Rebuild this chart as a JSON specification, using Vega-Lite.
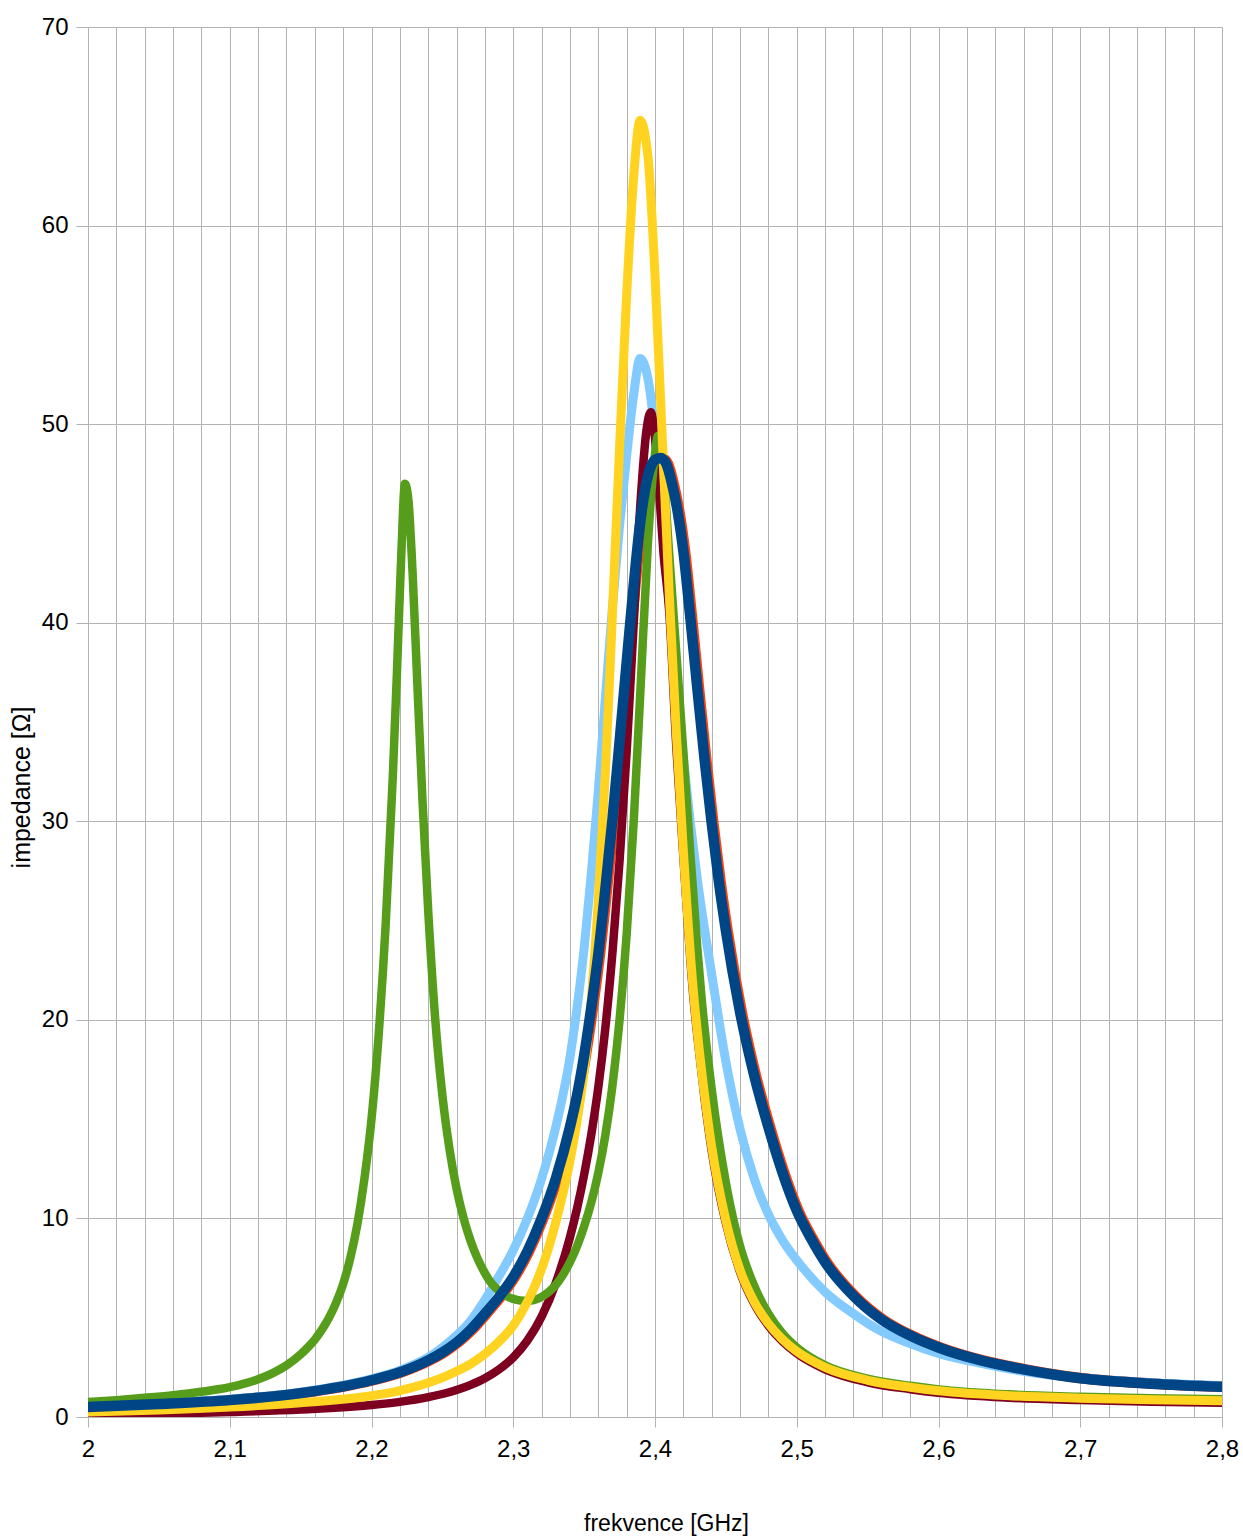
{
  "$schema": "https://vega.github.io/schema/vega-lite/v6.json",
  "autosize": "none",
  "width": 1134,
  "height": 1390,
  "padding": {"left": 88, "top": 27, "right": 21, "bottom": 120},
  "background": "white",
  "config": {
    "view": {"stroke": null},
    "font": "Liberation Sans",
    "axis": {"labelFont": "Liberation Sans", "titleFont": "Liberation Sans", "labelColor": "#000000", "titleColor": "#000000", "titleFontWeight": "normal", "gridColor": "#b3b3b3", "gridWidth": 1, "domainColor": "#b3b3b3", "tickColor": "#b3b3b3"}
  },
  "datasets": {
    "curves": [
      {"s": "orange", "f": 2.0, "z": 0.49}, {"s": "orange", "f": 2.0512, "z": 0.65}, {"s": "orange", "f": 2.1012, "z": 0.85}, {"s": "orange", "f": 2.1512, "z": 1.2}, {"s": "orange", "f": 2.2012, "z": 1.85}, {"s": "orange", "f": 2.2212, "z": 2.25}, {"s": "orange", "f": 2.2412, "z": 2.85}, {"s": "orange", "f": 2.2512, "z": 3.25}, {"s": "orange", "f": 2.2612, "z": 3.75}, {"s": "orange", "f": 2.2712, "z": 4.4}, {"s": "orange", "f": 2.2812, "z": 5.2}, {"s": "orange", "f": 2.2912, "z": 6.05}, {"s": "orange", "f": 2.3012, "z": 7.05}, {"s": "orange", "f": 2.3112, "z": 8.35}, {"s": "orange", "f": 2.3212, "z": 10.0}, {"s": "orange", "f": 2.3312, "z": 12.0}, {"s": "orange", "f": 2.3412, "z": 14.6}, {"s": "orange", "f": 2.3462, "z": 16.2}, {"s": "orange", "f": 2.3512, "z": 18.2}, {"s": "orange", "f": 2.3562, "z": 20.6}, {"s": "orange", "f": 2.3612, "z": 23.3}, {"s": "orange", "f": 2.3662, "z": 26.6}, {"s": "orange", "f": 2.3712, "z": 30.1}, {"s": "orange", "f": 2.3762, "z": 34.0}, {"s": "orange", "f": 2.3812, "z": 38.0}, {"s": "orange", "f": 2.3862, "z": 41.9}, {"s": "orange", "f": 2.3912, "z": 45.3}, {"s": "orange", "f": 2.3962, "z": 47.4}, {"s": "orange", "f": 2.4012, "z": 48.2}, {"s": "orange", "f": 2.4052, "z": 48.3}, {"s": "orange", "f": 2.4092, "z": 48.0}, {"s": "orange", "f": 2.4132, "z": 47.0}, {"s": "orange", "f": 2.4172, "z": 45.6}, {"s": "orange", "f": 2.4212, "z": 43.6}, {"s": "orange", "f": 2.4262, "z": 40.2}, {"s": "orange", "f": 2.4312, "z": 36.6}, {"s": "orange", "f": 2.4362, "z": 33.1}, {"s": "orange", "f": 2.4412, "z": 29.9}, {"s": "orange", "f": 2.4462, "z": 27.0}, {"s": "orange", "f": 2.4512, "z": 24.5}, {"s": "orange", "f": 2.4612, "z": 20.4}, {"s": "orange", "f": 2.4712, "z": 17.2}, {"s": "orange", "f": 2.4812, "z": 14.6}, {"s": "orange", "f": 2.4912, "z": 12.3}, {"s": "orange", "f": 2.5012, "z": 10.4}, {"s": "orange", "f": 2.5112, "z": 9.0}, {"s": "orange", "f": 2.5212, "z": 7.8}, {"s": "orange", "f": 2.5412, "z": 6.1}, {"s": "orange", "f": 2.5612, "z": 4.9}, {"s": "orange", "f": 2.5812, "z": 4.1}, {"s": "orange", "f": 2.6012, "z": 3.5}, {"s": "orange", "f": 2.6312, "z": 2.85}, {"s": "orange", "f": 2.6612, "z": 2.4}, {"s": "orange", "f": 2.7012, "z": 1.95}, {"s": "orange", "f": 2.7512, "z": 1.68}, {"s": "orange", "f": 2.8, "z": 1.53},

      {"s": "lightblue", "f": 2.0, "z": 0.55}, {"s": "lightblue", "f": 2.05, "z": 0.7}, {"s": "lightblue", "f": 2.1, "z": 0.9}, {"s": "lightblue", "f": 2.15, "z": 1.25}, {"s": "lightblue", "f": 2.2, "z": 1.92}, {"s": "lightblue", "f": 2.22, "z": 2.35}, {"s": "lightblue", "f": 2.24, "z": 3.0}, {"s": "lightblue", "f": 2.25, "z": 3.5}, {"s": "lightblue", "f": 2.26, "z": 4.1}, {"s": "lightblue", "f": 2.27, "z": 4.85}, {"s": "lightblue", "f": 2.28, "z": 5.9}, {"s": "lightblue", "f": 2.29, "z": 7.1}, {"s": "lightblue", "f": 2.3, "z": 8.4}, {"s": "lightblue", "f": 2.31, "z": 10.0}, {"s": "lightblue", "f": 2.32, "z": 12.0}, {"s": "lightblue", "f": 2.33, "z": 14.6}, {"s": "lightblue", "f": 2.34, "z": 18.1}, {"s": "lightblue", "f": 2.345, "z": 20.6}, {"s": "lightblue", "f": 2.35, "z": 23.6}, {"s": "lightblue", "f": 2.355, "z": 27.3}, {"s": "lightblue", "f": 2.36, "z": 31.5}, {"s": "lightblue", "f": 2.365, "z": 36.2}, {"s": "lightblue", "f": 2.37, "z": 40.8}, {"s": "lightblue", "f": 2.375, "z": 44.9}, {"s": "lightblue", "f": 2.38, "z": 48.4}, {"s": "lightblue", "f": 2.385, "z": 51.5}, {"s": "lightblue", "f": 2.3895, "z": 53.3}, {"s": "lightblue", "f": 2.395, "z": 52.3}, {"s": "lightblue", "f": 2.4, "z": 49.5}, {"s": "lightblue", "f": 2.405, "z": 45.5}, {"s": "lightblue", "f": 2.41, "z": 41.0}, {"s": "lightblue", "f": 2.415, "z": 37.0}, {"s": "lightblue", "f": 2.42, "z": 33.2}, {"s": "lightblue", "f": 2.43, "z": 27.0}, {"s": "lightblue", "f": 2.44, "z": 22.3}, {"s": "lightblue", "f": 2.45, "z": 17.9}, {"s": "lightblue", "f": 2.46, "z": 14.5}, {"s": "lightblue", "f": 2.47, "z": 12.0}, {"s": "lightblue", "f": 2.48, "z": 10.2}, {"s": "lightblue", "f": 2.49, "z": 8.9}, {"s": "lightblue", "f": 2.5, "z": 7.9}, {"s": "lightblue", "f": 2.52, "z": 6.3}, {"s": "lightblue", "f": 2.54, "z": 5.2}, {"s": "lightblue", "f": 2.56, "z": 4.3}, {"s": "lightblue", "f": 2.58, "z": 3.7}, {"s": "lightblue", "f": 2.6, "z": 3.2}, {"s": "lightblue", "f": 2.63, "z": 2.7}, {"s": "lightblue", "f": 2.66, "z": 2.3}, {"s": "lightblue", "f": 2.7, "z": 1.96}, {"s": "lightblue", "f": 2.75, "z": 1.72}, {"s": "lightblue", "f": 2.8, "z": 1.58},

      {"s": "maroon", "f": 2.0, "z": 0.1}, {"s": "maroon", "f": 2.05, "z": 0.16}, {"s": "maroon", "f": 2.1, "z": 0.25}, {"s": "maroon", "f": 2.15, "z": 0.38}, {"s": "maroon", "f": 2.2, "z": 0.6}, {"s": "maroon", "f": 2.22, "z": 0.76}, {"s": "maroon", "f": 2.24, "z": 1.0}, {"s": "maroon", "f": 2.26, "z": 1.36}, {"s": "maroon", "f": 2.27, "z": 1.62}, {"s": "maroon", "f": 2.28, "z": 1.95}, {"s": "maroon", "f": 2.29, "z": 2.4}, {"s": "maroon", "f": 2.3, "z": 3.0}, {"s": "maroon", "f": 2.31, "z": 3.85}, {"s": "maroon", "f": 2.32, "z": 5.05}, {"s": "maroon", "f": 2.33, "z": 6.75}, {"s": "maroon", "f": 2.34, "z": 9.05}, {"s": "maroon", "f": 2.345, "z": 10.5}, {"s": "maroon", "f": 2.35, "z": 12.2}, {"s": "maroon", "f": 2.355, "z": 14.2}, {"s": "maroon", "f": 2.36, "z": 16.6}, {"s": "maroon", "f": 2.365, "z": 19.6}, {"s": "maroon", "f": 2.37, "z": 23.4}, {"s": "maroon", "f": 2.375, "z": 28.0}, {"s": "maroon", "f": 2.38, "z": 33.5}, {"s": "maroon", "f": 2.385, "z": 40.0}, {"s": "maroon", "f": 2.39, "z": 46.3}, {"s": "maroon", "f": 2.394, "z": 49.7}, {"s": "maroon", "f": 2.397, "z": 50.6}, {"s": "maroon", "f": 2.4, "z": 49.3}, {"s": "maroon", "f": 2.403, "z": 46.5}, {"s": "maroon", "f": 2.406, "z": 43.5}, {"s": "maroon", "f": 2.41, "z": 40.6}, {"s": "maroon", "f": 2.415, "z": 33.8}, {"s": "maroon", "f": 2.42, "z": 28.2}, {"s": "maroon", "f": 2.427, "z": 21.2}, {"s": "maroon", "f": 2.43, "z": 19.1}, {"s": "maroon", "f": 2.435, "z": 16.0}, {"s": "maroon", "f": 2.44, "z": 13.4}, {"s": "maroon", "f": 2.45, "z": 9.75}, {"s": "maroon", "f": 2.46, "z": 7.3}, {"s": "maroon", "f": 2.47, "z": 5.7}, {"s": "maroon", "f": 2.48, "z": 4.6}, {"s": "maroon", "f": 2.49, "z": 3.8}, {"s": "maroon", "f": 2.5, "z": 3.2}, {"s": "maroon", "f": 2.52, "z": 2.4}, {"s": "maroon", "f": 2.55, "z": 1.75}, {"s": "maroon", "f": 2.58, "z": 1.4}, {"s": "maroon", "f": 2.6, "z": 1.22}, {"s": "maroon", "f": 2.65, "z": 0.97}, {"s": "maroon", "f": 2.7, "z": 0.85}, {"s": "maroon", "f": 2.75, "z": 0.77}, {"s": "maroon", "f": 2.8, "z": 0.72},

      {"s": "green", "f": 2.0, "z": 0.75}, {"s": "green", "f": 2.02, "z": 0.85}, {"s": "green", "f": 2.04, "z": 0.97}, {"s": "green", "f": 2.06, "z": 1.1}, {"s": "green", "f": 2.08, "z": 1.27}, {"s": "green", "f": 2.1, "z": 1.5}, {"s": "green", "f": 2.12, "z": 1.9}, {"s": "green", "f": 2.13, "z": 2.2}, {"s": "green", "f": 2.14, "z": 2.6}, {"s": "green", "f": 2.15, "z": 3.15}, {"s": "green", "f": 2.155, "z": 3.5}, {"s": "green", "f": 2.16, "z": 3.9}, {"s": "green", "f": 2.165, "z": 4.4}, {"s": "green", "f": 2.17, "z": 5.0}, {"s": "green", "f": 2.175, "z": 5.75}, {"s": "green", "f": 2.18, "z": 6.7}, {"s": "green", "f": 2.185, "z": 8.0}, {"s": "green", "f": 2.19, "z": 9.7}, {"s": "green", "f": 2.195, "z": 12.0}, {"s": "green", "f": 2.2, "z": 15.0}, {"s": "green", "f": 2.205, "z": 19.2}, {"s": "green", "f": 2.21, "z": 24.8}, {"s": "green", "f": 2.215, "z": 32.2}, {"s": "green", "f": 2.218, "z": 37.6}, {"s": "green", "f": 2.221, "z": 43.4}, {"s": "green", "f": 2.2236, "z": 47.0}, {"s": "green", "f": 2.226, "z": 46.2}, {"s": "green", "f": 2.229, "z": 42.5}, {"s": "green", "f": 2.232, "z": 37.5}, {"s": "green", "f": 2.236, "z": 31.0}, {"s": "green", "f": 2.24, "z": 25.5}, {"s": "green", "f": 2.245, "z": 20.0}, {"s": "green", "f": 2.25, "z": 16.2}, {"s": "green", "f": 2.255, "z": 13.5}, {"s": "green", "f": 2.26, "z": 11.5}, {"s": "green", "f": 2.265, "z": 10.0}, {"s": "green", "f": 2.27, "z": 8.85}, {"s": "green", "f": 2.275, "z": 7.95}, {"s": "green", "f": 2.28, "z": 7.25}, {"s": "green", "f": 2.285, "z": 6.7}, {"s": "green", "f": 2.29, "z": 6.35}, {"s": "green", "f": 2.295, "z": 6.1}, {"s": "green", "f": 2.3, "z": 5.95}, {"s": "green", "f": 2.305, "z": 5.87}, {"s": "green", "f": 2.31, "z": 5.85}, {"s": "green", "f": 2.315, "z": 5.9}, {"s": "green", "f": 2.32, "z": 6.05}, {"s": "green", "f": 2.325, "z": 6.3}, {"s": "green", "f": 2.33, "z": 6.65}, {"s": "green", "f": 2.335, "z": 7.15}, {"s": "green", "f": 2.34, "z": 7.8}, {"s": "green", "f": 2.345, "z": 8.6}, {"s": "green", "f": 2.35, "z": 9.6}, {"s": "green", "f": 2.355, "z": 10.8}, {"s": "green", "f": 2.36, "z": 12.3}, {"s": "green", "f": 2.365, "z": 14.2}, {"s": "green", "f": 2.37, "z": 16.7}, {"s": "green", "f": 2.375, "z": 20.0}, {"s": "green", "f": 2.38, "z": 24.3}, {"s": "green", "f": 2.385, "z": 30.0}, {"s": "green", "f": 2.39, "z": 37.0}, {"s": "green", "f": 2.395, "z": 44.0}, {"s": "green", "f": 2.4, "z": 48.5}, {"s": "green", "f": 2.402, "z": 49.4}, {"s": "green", "f": 2.405, "z": 48.3}, {"s": "green", "f": 2.41, "z": 43.5}, {"s": "green", "f": 2.415, "z": 38.5}, {"s": "green", "f": 2.42, "z": 33.5}, {"s": "green", "f": 2.425, "z": 28.3}, {"s": "green", "f": 2.43, "z": 23.5}, {"s": "green", "f": 2.433, "z": 21.0}, {"s": "green", "f": 2.44, "z": 16.5}, {"s": "green", "f": 2.45, "z": 11.8}, {"s": "green", "f": 2.46, "z": 8.6}, {"s": "green", "f": 2.47, "z": 6.6}, {"s": "green", "f": 2.48, "z": 5.2}, {"s": "green", "f": 2.49, "z": 4.2}, {"s": "green", "f": 2.5, "z": 3.5}, {"s": "green", "f": 2.52, "z": 2.6}, {"s": "green", "f": 2.55, "z": 1.93}, {"s": "green", "f": 2.58, "z": 1.57}, {"s": "green", "f": 2.6, "z": 1.39}, {"s": "green", "f": 2.65, "z": 1.14}, {"s": "green", "f": 2.7, "z": 1.02}, {"s": "green", "f": 2.75, "z": 0.94}, {"s": "green", "f": 2.8, "z": 0.89},

      {"s": "yellow", "f": 2.0, "z": 0.25}, {"s": "yellow", "f": 2.05, "z": 0.35}, {"s": "yellow", "f": 2.1, "z": 0.5}, {"s": "yellow", "f": 2.15, "z": 0.72}, {"s": "yellow", "f": 2.2, "z": 1.07}, {"s": "yellow", "f": 2.22, "z": 1.33}, {"s": "yellow", "f": 2.24, "z": 1.72}, {"s": "yellow", "f": 2.25, "z": 1.98}, {"s": "yellow", "f": 2.26, "z": 2.3}, {"s": "yellow", "f": 2.27, "z": 2.68}, {"s": "yellow", "f": 2.28, "z": 3.17}, {"s": "yellow", "f": 2.29, "z": 3.8}, {"s": "yellow", "f": 2.3, "z": 4.6}, {"s": "yellow", "f": 2.31, "z": 5.8}, {"s": "yellow", "f": 2.32, "z": 7.45}, {"s": "yellow", "f": 2.33, "z": 9.8}, {"s": "yellow", "f": 2.34, "z": 12.9}, {"s": "yellow", "f": 2.345, "z": 14.9}, {"s": "yellow", "f": 2.35, "z": 17.4}, {"s": "yellow", "f": 2.355, "z": 21.0}, {"s": "yellow", "f": 2.36, "z": 26.0}, {"s": "yellow", "f": 2.365, "z": 32.5}, {"s": "yellow", "f": 2.37, "z": 40.5}, {"s": "yellow", "f": 2.375, "z": 48.8}, {"s": "yellow", "f": 2.38, "z": 56.5}, {"s": "yellow", "f": 2.385, "z": 62.5}, {"s": "yellow", "f": 2.3895, "z": 65.3}, {"s": "yellow", "f": 2.395, "z": 63.5}, {"s": "yellow", "f": 2.4, "z": 57.5}, {"s": "yellow", "f": 2.405, "z": 49.5}, {"s": "yellow", "f": 2.41, "z": 41.5}, {"s": "yellow", "f": 2.415, "z": 34.5}, {"s": "yellow", "f": 2.42, "z": 28.5}, {"s": "yellow", "f": 2.427, "z": 21.5}, {"s": "yellow", "f": 2.43, "z": 19.3}, {"s": "yellow", "f": 2.435, "z": 16.2}, {"s": "yellow", "f": 2.44, "z": 13.6}, {"s": "yellow", "f": 2.45, "z": 9.9}, {"s": "yellow", "f": 2.46, "z": 7.4}, {"s": "yellow", "f": 2.47, "z": 5.8}, {"s": "yellow", "f": 2.48, "z": 4.7}, {"s": "yellow", "f": 2.49, "z": 3.9}, {"s": "yellow", "f": 2.5, "z": 3.3}, {"s": "yellow", "f": 2.52, "z": 2.5}, {"s": "yellow", "f": 2.55, "z": 1.85}, {"s": "yellow", "f": 2.58, "z": 1.5}, {"s": "yellow", "f": 2.6, "z": 1.32}, {"s": "yellow", "f": 2.65, "z": 1.07}, {"s": "yellow", "f": 2.7, "z": 0.95}, {"s": "yellow", "f": 2.75, "z": 0.87}, {"s": "yellow", "f": 2.8, "z": 0.82},

      {"s": "darkblue", "f": 2.0, "z": 0.5}, {"s": "darkblue", "f": 2.05, "z": 0.65}, {"s": "darkblue", "f": 2.1, "z": 0.85}, {"s": "darkblue", "f": 2.15, "z": 1.2}, {"s": "darkblue", "f": 2.2, "z": 1.85}, {"s": "darkblue", "f": 2.22, "z": 2.25}, {"s": "darkblue", "f": 2.24, "z": 2.85}, {"s": "darkblue", "f": 2.25, "z": 3.25}, {"s": "darkblue", "f": 2.26, "z": 3.75}, {"s": "darkblue", "f": 2.27, "z": 4.4}, {"s": "darkblue", "f": 2.28, "z": 5.2}, {"s": "darkblue", "f": 2.29, "z": 6.05}, {"s": "darkblue", "f": 2.3, "z": 7.05}, {"s": "darkblue", "f": 2.31, "z": 8.35}, {"s": "darkblue", "f": 2.32, "z": 10.0}, {"s": "darkblue", "f": 2.33, "z": 12.0}, {"s": "darkblue", "f": 2.34, "z": 14.6}, {"s": "darkblue", "f": 2.345, "z": 16.2}, {"s": "darkblue", "f": 2.35, "z": 18.2}, {"s": "darkblue", "f": 2.355, "z": 20.6}, {"s": "darkblue", "f": 2.36, "z": 23.3}, {"s": "darkblue", "f": 2.365, "z": 26.6}, {"s": "darkblue", "f": 2.37, "z": 30.1}, {"s": "darkblue", "f": 2.375, "z": 34.0}, {"s": "darkblue", "f": 2.38, "z": 38.0}, {"s": "darkblue", "f": 2.385, "z": 41.9}, {"s": "darkblue", "f": 2.39, "z": 45.3}, {"s": "darkblue", "f": 2.395, "z": 47.4}, {"s": "darkblue", "f": 2.4, "z": 48.2}, {"s": "darkblue", "f": 2.404, "z": 48.3}, {"s": "darkblue", "f": 2.408, "z": 48.0}, {"s": "darkblue", "f": 2.412, "z": 47.0}, {"s": "darkblue", "f": 2.416, "z": 45.6}, {"s": "darkblue", "f": 2.42, "z": 43.6}, {"s": "darkblue", "f": 2.425, "z": 40.2}, {"s": "darkblue", "f": 2.43, "z": 36.6}, {"s": "darkblue", "f": 2.435, "z": 33.1}, {"s": "darkblue", "f": 2.44, "z": 29.9}, {"s": "darkblue", "f": 2.445, "z": 27.0}, {"s": "darkblue", "f": 2.45, "z": 24.5}, {"s": "darkblue", "f": 2.46, "z": 20.4}, {"s": "darkblue", "f": 2.47, "z": 17.2}, {"s": "darkblue", "f": 2.48, "z": 14.6}, {"s": "darkblue", "f": 2.49, "z": 12.3}, {"s": "darkblue", "f": 2.5, "z": 10.4}, {"s": "darkblue", "f": 2.51, "z": 9.0}, {"s": "darkblue", "f": 2.52, "z": 7.8}, {"s": "darkblue", "f": 2.54, "z": 6.1}, {"s": "darkblue", "f": 2.56, "z": 4.9}, {"s": "darkblue", "f": 2.58, "z": 4.1}, {"s": "darkblue", "f": 2.6, "z": 3.5}, {"s": "darkblue", "f": 2.63, "z": 2.85}, {"s": "darkblue", "f": 2.66, "z": 2.4}, {"s": "darkblue", "f": 2.7, "z": 1.95}, {"s": "darkblue", "f": 2.75, "z": 1.68}, {"s": "darkblue", "f": 2.8, "z": 1.52}
    ]
  },
  "data": {"name": "curves"},
  "encoding": {
    "x": {
      "field": "f", "type": "quantitative",
      "scale": {"domain": [2, 2.8], "nice": false, "zero": false},
      "axis": {
        "title": "frekvence [GHz]",
        "titleFontSize": 23,
        "titleBaseline": "alphabetic",
        "titleAlign": "center",
        "titleX": 578,
        "titleY": 113,
        "labelFontSize": 24,
        "labelPadding": 10,
        "tickSize": 10,
        "values": [2, 2.02, 2.04, 2.06, 2.08, 2.1, 2.12, 2.14, 2.16, 2.18, 2.2, 2.22, 2.24, 2.26, 2.28, 2.3, 2.32, 2.34, 2.36, 2.38, 2.4, 2.42, 2.44, 2.46, 2.48, 2.5, 2.52, 2.54, 2.56, 2.58, 2.6, 2.62, 2.64, 2.66, 2.68, 2.7, 2.72, 2.74, 2.76, 2.78, 2.8],
        "labelExpr": "abs(datum.value * 10 - round(datum.value * 10)) < 0.001 ? replace(format(datum.value, '.1~f'), '.', ',') : ''",
        "tickOpacity": {"condition": {"test": "abs(datum.value * 10 - round(datum.value * 10)) < 0.001", "value": 1}, "value": 0},
        "labelOverlap": false,
        "labelFlush": false,
        "grid": true
      }
    },
    "y": {
      "field": "z", "type": "quantitative",
      "scale": {"domain": [0, 70], "nice": false},
      "axis": {
        "title": "impedance [Ω]",
        "titleFontSize": 25,
        "titleAngle": -90,
        "titleBaseline": "alphabetic",
        "titleAlign": "center",
        "titleX": -59,
        "titleY": 760,
        "labelFontSize": 24,
        "labelPadding": 8,
        "tickSize": 12,
        "values": [0, 10, 20, 30, 40, 50, 60, 70],
        "grid": true
      }
    },
    "order": {"field": "f", "type": "quantitative"}
  },
  "layer": [
    {"transform": [{"filter": "datum.s === 'orange'"}], "mark": {"type": "line", "interpolate": "monotone", "strokeWidth": 10.5, "strokeCap": "round", "strokeJoin": "round", "color": "#ff420e", "clip": true}},
    {"transform": [{"filter": "datum.s === 'lightblue'"}], "mark": {"type": "line", "interpolate": "monotone", "strokeWidth": 9, "strokeCap": "round", "strokeJoin": "round", "color": "#83caff", "clip": true}},
    {"transform": [{"filter": "datum.s === 'maroon'"}], "mark": {"type": "line", "interpolate": "monotone", "strokeWidth": 8.5, "strokeCap": "round", "strokeJoin": "round", "color": "#7e0021", "clip": true}},
    {"transform": [{"filter": "datum.s === 'green'"}], "mark": {"type": "line", "interpolate": "monotone", "strokeWidth": 8.5, "strokeCap": "round", "strokeJoin": "round", "color": "#579d1c", "clip": true}},
    {"transform": [{"filter": "datum.s === 'yellow'"}], "mark": {"type": "line", "interpolate": "monotone", "strokeWidth": 9, "strokeCap": "round", "strokeJoin": "round", "color": "#ffd320", "clip": true}},
    {"transform": [{"filter": "datum.s === 'darkblue'"}], "mark": {"type": "line", "interpolate": "monotone", "strokeWidth": 10.5, "strokeCap": "round", "strokeJoin": "round", "color": "#004586", "clip": true}}
  ]
}
